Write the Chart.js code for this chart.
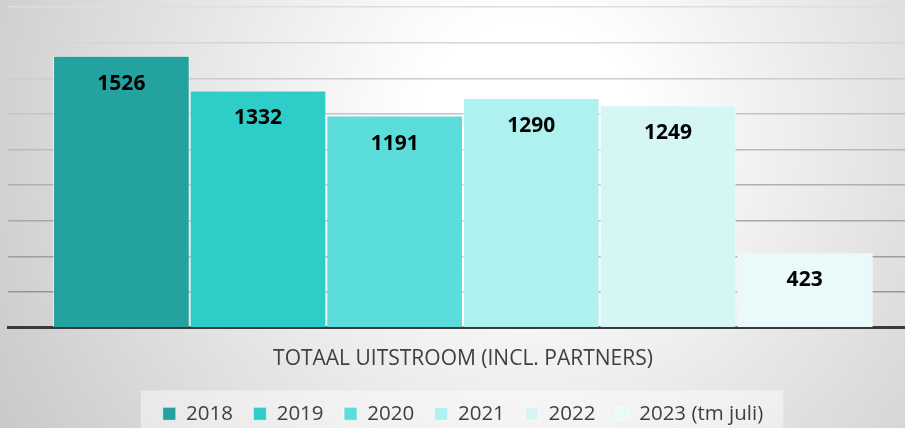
<!DOCTYPE html>
<html>
<head>
<meta charset="utf-8">
<script src="https://cdn.jsdelivr.net/npm/chart.js@4.4.0/dist/chart.umd.min.js"></script>
<style>
  html, body { margin: 0; padding: 0; width: 905px; height: 428px; overflow: hidden; }
  body { background: radial-gradient(circle farthest-corner at 58% 30%, #ffffff 0%, #ffffff 18%, #c9c9c9 100%); }
  #wrap { position: absolute; left: 0; top: 0; width: 926px; height: 428px; }
</style>
</head>
<body>
<div id="wrap"><canvas id="c" width="926" height="428"></canvas></div>
<script>
const categories = ["TOTAAL UITSTROOM (INCL. PARTNERS)"];
const seriesNames = ["2018", "2019", "2020", "2021", "2022", "2023 (tm juli)"];
const values2018 = [1526];
const values2019 = [1332];
const values2020 = [1191];
const values2021 = [1290];
const values2022 = [1249];
const values2023 = [423];
const yTicks = [0, 200, 400, 600, 800, 1000, 1200, 1400, 1600, 1800];

const seriesValues = [values2018, values2019, values2020, values2021, values2022, values2023];
const colors = ["#23A29F", "#2ECDC8", "#5BDEDB", "#AEF1EE", "#D6F6F6", "#EAF9F9"];

const legendBg = {
  id: 'legendBg',
  beforeDraw(chart) {
    const lg = chart.legend;
    if (!lg || !lg.legendHitBoxes || !lg.legendHitBoxes.length) return;
    const hb = lg.legendHitBoxes;
    const l = Math.min(...hb.map(h => h.left)) - 22;
    const r = Math.max(...hb.map(h => h.left + h.width)) + 20;
    const t = Math.min(...hb.map(h => h.top)) - 13;
    const ctx = chart.ctx;
    ctx.save();
    ctx.fillStyle = 'rgba(255,255,255,0.45)';
    ctx.fillRect(l, t, r - l, chart.height - t);
    ctx.restore();
  }
};

const barLabels = {
  id: 'barLabels',
  afterDatasetsDraw(chart) {
    const ctx = chart.ctx;
    ctx.save();
    ctx.font = 'bold 21px "Open Sans", sans-serif';
    ctx.fillStyle = '#000000';
    ctx.textAlign = 'center';
    ctx.textBaseline = 'middle';
    chart.data.datasets.forEach((ds, i) => {
      const meta = chart.getDatasetMeta(i);
      meta.data.forEach((bar, j) => {
        ctx.fillText(String(ds.data[j]), bar.x, bar.y + 28);
      });
    });
    ctx.restore();
  }
};

new Chart(document.getElementById('c'), {
  type: 'bar',
  data: {
    labels: categories,
    datasets: seriesNames.map((name, i) => ({
      label: name,
      data: seriesValues[i],
      backgroundColor: colors[i],
      borderColor: 'rgba(255,255,255,0.55)',
      borderWidth: 1,
      categoryPercentage: 0.901,
      barPercentage: 1.0
    }))
  },
  options: {
    responsive: false,
    animation: false,
    layout: { padding: { left: 8, right: 8, top: 7, bottom: -6 } },
    plugins: {
      tooltip: { enabled: false },
      legend: {
        position: 'bottom',
        labels: {
          boxWidth: 13,
          boxHeight: 13,
          padding: 20.5,
          color: '#404040',
          font: { family: '"Open Sans", sans-serif', size: 20.5 }
        }
      }
    },
    scales: {
      x: {
        grid: { display: false },
        border: { display: true, color: '#3a3a3a', width: 3 },
        ticks: {
          color: '#404040',
          padding: 11,
          font: { family: '"Open Sans", sans-serif', size: 21 }
        }
      },
      y: {
        min: yTicks[0],
        max: yTicks[yTicks.length - 1],
        afterBuildTicks(scale) { scale.ticks = yTicks.map(v => ({ value: v })); },
        ticks: { display: false },
        border: { display: false },
        grid: {
          drawTicks: false,
          lineWidth: 1.5,
          color(ctx) {
            const v = ctx.tick ? ctx.tick.value : 0;
            if (v === 0) return 'rgba(0,0,0,0)';
            const f = v / 1800;
            const c = Math.round(140 + (222 - 140) * f);
            return 'rgb(' + c + ',' + c + ',' + c + ')';
          }
        }
      }
    }
  },
  plugins: [legendBg, barLabels]
});
</script>
</body>
</html>
